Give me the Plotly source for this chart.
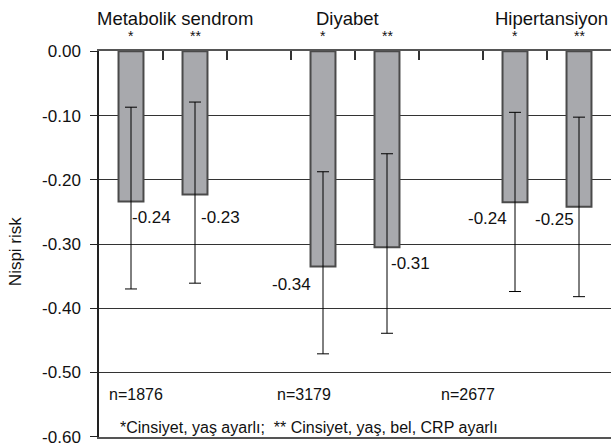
import plotly.graph_objects as go

# ---- data ----
groups = ["Metabolik sendrom", "Diyabet", "Hipertansiyon"]
adjustments = ["*", "**"]
n_labels = ["n=1876", "n=3179", "n=2677"]
values = [-0.234, -0.223, -0.335, -0.305, -0.235, -0.242]
upper = [-0.087, -0.079, -0.1875, -0.1595, -0.095, -0.1025]
lower = [-0.370, -0.361, -0.471, -0.439, -0.374, -0.382]
value_labels = ["-0.24", "-0.23", "-0.34", "-0.31", "-0.24", "-0.25"]
y_ticks = [0.0, -0.1, -0.2, -0.3, -0.4, -0.5, -0.6]
y_tick_labels = ["0.00", "-0.10", "-0.20", "-0.30", "-0.40", "-0.50", "-0.60"]
footnote = "*Cinsiyet, yaş ayarlı;  ** Cinsiyet, yaş, bel, CRP ayarlı"

FONT = "Liberation Sans, Arial, Helvetica, sans-serif"

slots = []
for gi in range(len(groups)):
    for ai in range(len(adjustments)):
        slots.append(gi * 3 + ai)
n_slots = len(groups) * 3 - 1

err_plus = [u - v for u, v in zip(upper, values)]
err_minus = [v - l for v, l in zip(values, lower)]

fig = go.Figure()
fig.add_trace(go.Bar(
    x=slots, y=values, width=0.39,
    marker=dict(color="#a8a9ad", line=dict(color="#4a4a4a", width=2)),
    error_y=dict(type="data", symmetric=False, array=err_plus, arrayminus=err_minus,
                 color="black", thickness=1, width=6),
    showlegend=False, hoverinfo="skip",
))

annotations = []
label_place = [("left", -1, -16), ("left", 4, -23), ("right", -10, -18),
               ("left", 2, -16), ("right", -6, -16), ("right", -3, -13)]
for s, v, t, (xa, xs, ys) in zip(slots, values, value_labels, label_place):
    annotations.append(dict(x=s, y=v, xref="x", yref="y", text=t, showarrow=False,
                            xanchor=xa, yanchor="middle", xshift=xs, yshift=ys,
                            font=dict(size=17, color="#111", family=FONT)))
for i, s in enumerate(slots):
    annotations.append(dict(x=s, y=1, xref="x", yref="paper", text=adjustments[i % 2],
                            showarrow=False, yanchor="bottom", yshift=5,
                            font=dict(size=14, color="#111", family=FONT)))
title_shift = [12, -8, 4]
for gi, g in enumerate(groups):
    annotations.append(dict(x=gi * 3 + 0.5, y=1, xref="x", yref="paper", text=g,
                            showarrow=False, yanchor="middle", yshift=33,
                            xshift=title_shift[gi],
                            font=dict(size=18.5, color="#111", family=FONT)))
n_x = [0.08, 2.70, 5.27]
for x, t in zip(n_x, n_labels):
    annotations.append(dict(x=x, y=-0.535, xref="x", yref="y", text=t, showarrow=False,
                            yanchor="middle",
                            font=dict(size=16, color="#111", family=FONT)))
annotations.append(dict(x=0.41, y=0.024, xref="paper", yref="paper", text=footnote,
                        showarrow=False, yanchor="middle",
                        font=dict(size=16, color="#111", family=FONT)))
annotations.append(dict(x=-0.164, y=0.479, xref="paper", yref="paper", text="Nispi risk",
                        showarrow=False, textangle=-90, xanchor="center", yanchor="middle",
                        font=dict(size=17, color="#111", family=FONT)))

fig.update_layout(
    width=611, height=448,
    margin=dict(l=99, r=0, t=51, b=11, autoexpand=False),
    paper_bgcolor="white", plot_bgcolor="white",
    font=dict(family=FONT, size=17, color="#111"),
    annotations=annotations,
    xaxis=dict(range=[-0.5, n_slots - 0.5], side="top", showline=True, mirror=True,
               linecolor="#555", linewidth=2, ticks="inside", ticklen=9,
               tickcolor="#333", tickwidth=1.5, automargin=False,
               tickvals=[i + 0.5 for i in range(n_slots - 1)], showticklabels=False,
               showgrid=False, zeroline=False),
    yaxis=dict(range=[-0.6005, 0.0005], tickvals=y_ticks, ticktext=y_tick_labels,
               showline=True, linecolor="#222", linewidth=1.5, automargin=False,
               ticks="outside", ticklen=7, tickcolor="#222", tickwidth=1,
               ticklabelstandoff=6,
               showgrid=True, gridcolor="#333", gridwidth=1, zeroline=False,
               tickfont=dict(size=17, color="#111", family=FONT)),
)

fig.write_html("out.html", config={"displayModeBar": False},
               post_script="document.documentElement.style.overflow='hidden';"
                           "document.body.style.overflow='hidden';"
                           "document.body.style.margin='0';")
